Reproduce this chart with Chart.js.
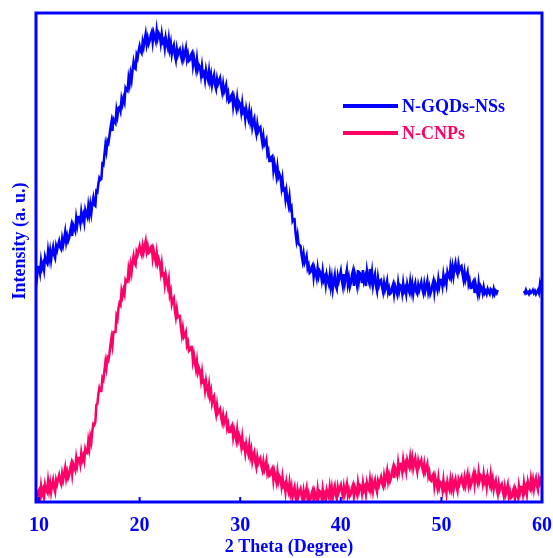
<!DOCTYPE html>
<html>
<head>
<meta charset="utf-8">
<script src="https://cdn.jsdelivr.net/npm/chart.js@4.4.1/dist/chart.umd.min.js"></script>
<style>
html,body{margin:0;padding:0;background:#fff;}
#wrap{width:553px;height:558px;position:relative;}
</style>
</head>
<body>
<div id="wrap"><canvas id="c" width="553" height="558"></canvas></div>
<script>
// 2θ sampling grid (degrees)
const twoTheta = [
 9.7,9.8,9.9,
 10,10.1,10.2,10.3,10.4,10.5,10.6,10.7,10.8,10.9,
 11,11.1,11.2,11.3,11.4,11.5,11.6,11.7,11.8,11.9,
 12,12.1,12.2,12.3,12.4,12.5,12.6,12.7,12.8,12.9,
 13,13.1,13.2,13.3,13.4,13.5,13.6,13.7,13.8,13.9,
 14,14.1,14.2,14.3,14.4,14.5,14.6,14.7,14.8,14.9,
 15,15.1,15.2,15.3,15.4,15.5,15.6,15.7,15.8,15.9,
 16,16.1,16.2,16.3,16.4,16.5,16.6,16.7,16.8,16.9,
 17,17.1,17.2,17.3,17.4,17.5,17.6,17.7,17.8,17.9,
 18,18.1,18.2,18.3,18.4,18.5,18.6,18.7,18.8,18.9,
 19,19.1,19.2,19.3,19.4,19.5,19.6,19.7,19.8,19.9,
 20,20.1,20.2,20.3,20.4,20.5,20.6,20.7,20.8,20.9,
 21,21.1,21.2,21.3,21.4,21.5,21.6,21.7,21.8,21.9,
 22,22.1,22.2,22.3,22.4,22.5,22.6,22.7,22.8,22.9,
 23,23.1,23.2,23.3,23.4,23.5,23.6,23.7,23.8,23.9,
 24,24.1,24.2,24.3,24.4,24.5,24.6,24.7,24.8,24.9,
 25,25.1,25.2,25.3,25.4,25.5,25.6,25.7,25.8,25.9,
 26,26.1,26.2,26.3,26.4,26.5,26.6,26.7,26.8,26.9,
 27,27.1,27.2,27.3,27.4,27.5,27.6,27.7,27.8,27.9,
 28,28.1,28.2,28.3,28.4,28.5,28.6,28.7,28.8,28.9,
 29,29.1,29.2,29.3,29.4,29.5,29.6,29.7,29.8,29.9,
 30,30.1,30.2,30.3,30.4,30.5,30.6,30.7,30.8,30.9,
 31,31.1,31.2,31.3,31.4,31.5,31.6,31.7,31.8,31.9,
 32,32.1,32.2,32.3,32.4,32.5,32.6,32.7,32.8,32.9,
 33,33.1,33.2,33.3,33.4,33.5,33.6,33.7,33.8,33.9,
 34,34.1,34.2,34.3,34.4,34.5,34.6,34.7,34.8,34.9,
 35,35.1,35.2,35.3,35.4,35.5,35.6,35.7,35.8,35.9,
 36,36.1,36.2,36.3,36.4,36.5,36.6,36.7,36.8,36.9,
 37,37.1,37.2,37.3,37.4,37.5,37.6,37.7,37.8,37.9,
 38,38.1,38.2,38.3,38.4,38.5,38.6,38.7,38.8,38.9,
 39,39.1,39.2,39.3,39.4,39.5,39.6,39.7,39.8,39.9,
 40,40.1,40.2,40.3,40.4,40.5,40.6,40.7,40.8,40.9,
 41,41.1,41.2,41.3,41.4,41.5,41.6,41.7,41.8,41.9,
 42,42.1,42.2,42.3,42.4,42.5,42.6,42.7,42.8,42.9,
 43,43.1,43.2,43.3,43.4,43.5,43.6,43.7,43.8,43.9,
 44,44.1,44.2,44.3,44.4,44.5,44.6,44.7,44.8,44.9,
 45,45.1,45.2,45.3,45.4,45.5,45.6,45.7,45.8,45.9,
 46,46.1,46.2,46.3,46.4,46.5,46.6,46.7,46.8,46.9,
 47,47.1,47.2,47.3,47.4,47.5,47.6,47.7,47.8,47.9,
 48,48.1,48.2,48.3,48.4,48.5,48.6,48.7,48.8,48.9,
 49,49.1,49.2,49.3,49.4,49.5,49.6,49.7,49.8,49.9,
 50,50.1,50.2,50.3,50.4,50.5,50.6,50.7,50.8,50.9,
 51,51.1,51.2,51.3,51.4,51.5,51.6,51.7,51.8,51.9,
 52,52.1,52.2,52.3,52.4,52.5,52.6,52.7,52.8,52.9,
 53,53.1,53.2,53.3,53.4,53.5,53.6,53.7,53.8,53.9,
 54,54.1,54.2,54.3,54.4,54.5,54.6,54.7,54.8,54.9,
 55,55.1,55.2,55.3,55.4,55.5,55.6,55.7,55.8,55.9,
 56,56.1,56.2,56.3,56.4,56.5,56.6,56.7,56.8,56.9,
 57,57.1,57.2,57.3,57.4,57.5,57.6,57.7,57.8,57.9,
 58,58.1,58.2,58.3,58.4,58.5,58.6,58.7,58.8,58.9,
 59,59.1,59.2,59.3,59.4,59.5,59.6,59.7,59.8,59.9,
 60
];

// N-GQDs-NSs intensity (a.u., offset trace)
const nGQDsNSs = [
 231,225,235,
 235,229,241,234,238,232,245,241,239,251,
 243,251,242,250,255,247,244,256,252,257,
 261,255,253,263,257,263,270,260,266,261,
 264,271,276,266,277,274,271,284,277,285,
 285,279,290,283,287,280,292,288,285,296,
 288,297,289,298,304,297,296,311,310,318,
 324,322,323,338,337,347,357,351,361,359,
 366,374,380,371,383,381,379,392,386,394,
 395,391,403,398,404,400,414,412,411,424,
 418,428,422,432,440,434,433,447,444,451,
 456,451,449,460,455,462,468,458,464,458,
 461,467,470,460,469,465,461,472,464,469,
 467,459,468,460,462,454,464,458,454,463,
 453,459,448,454,457,447,442,453,447,451,
 453,446,442,451,444,449,454,443,448,441,
 442,447,449,437,445,439,433,443,433,437,
 435,427,436,427,429,422,432,426,422,431,
 421,427,417,423,427,417,413,423,418,421,
 424,416,410,418,410,413,417,405,409,400,
 401,406,408,396,404,399,394,404,395,400,
 398,390,399,390,392,383,393,387,383,391,
 381,387,375,381,384,373,368,378,371,374,
 375,366,359,366,357,359,362,348,351,341,
 341,345,346,332,339,333,326,335,325,328,
 325,315,323,312,313,303,311,303,297,305,
 293,295,281,283,283,269,261,267,258,257,
 256,247,241,248,239,242,246,234,237,229,
 230,235,237,225,233,229,224,234,226,231,
 229,222,231,222,225,217,227,222,218,227,
 216,224,213,221,227,216,213,226,221,226,
 231,222,216,228,219,226,232,218,224,215,
 219,227,231,216,228,223,217,232,221,229,
 228,219,232,221,225,216,231,224,220,233,
 222,230,217,224,228,216,211,224,217,221,
 222,215,210,219,212,216,221,210,214,208,
 209,215,218,208,216,212,208,219,211,217,
 216,209,219,211,214,208,218,213,210,220,
 211,218,208,215,219,210,208,217,212,216,
 220,213,209,218,211,216,221,210,215,208,
 211,217,221,210,219,216,212,223,216,222,
 222,216,227,220,224,218,230,226,224,235,
 227,235,226,234,239,231,228,238,232,235,
 236,228,222,230,222,226,230,218,222,214,
 214,219,221,209,218,213,208,219,210,216,
 214,209,215,209,211,208,213,210,208,213,
 212,208,213,208,211,209,212,null,null,null,
 null,null,null,null,null,null,null,null,null,null,
 null,null,null,null,null,null,null,null,null,null,
 null,null,211,209,212,209,210,208,211,209,
 210,212,209,211,208,210,212,209,218,213,
 222
];

// N-CNPs intensity (a.u.)
const nCNPs = [
 8,3,10,
 12,5,16,8,12,5,17,12,10,21,
 12,19,10,17,22,14,10,22,18,23,
 27,21,18,28,22,28,34,24,30,24,
 27,34,38,28,38,35,32,44,37,44,
 44,38,49,42,46,41,53,50,49,61,
 54,65,60,71,78,77,80,97,98,108,
 114,111,111,124,122,131,140,134,144,142,
 148,157,164,157,170,170,170,186,183,194,
 199,197,211,206,212,208,222,220,220,233,
 227,237,230,240,246,239,237,250,247,252,
 256,250,247,256,250,256,261,251,256,249,
 250,255,256,244,251,245,240,249,239,243,
 239,230,238,227,228,218,227,220,215,222,
 207,211,198,202,204,192,185,193,185,186,
 186,175,167,174,165,167,170,157,160,151,
 152,155,155,141,147,140,133,141,130,134,
 131,122,130,120,121,112,121,114,109,117,
 106,111,99,104,106,94,88,97,89,91,
 93,85,80,87,79,83,86,74,78,70,
 70,75,77,65,72,67,62,72,62,67,
 64,56,65,55,57,49,58,52,48,57,
 46,52,41,47,50,40,35,45,39,42,
 44,36,32,40,32,36,41,29,33,26,
 27,32,34,22,30,25,20,30,21,26,
 24,16,25,16,18,10,20,14,10,19,
 9,15,5,11,15,5,1,12,6,10,
 13,6,2,11,4,9,14,3,8,1,
 3,9,12,1,10,6,2,13,5,11,
 10,3,13,5,8,2,12,8,5,15,
 7,14,4,12,16,7,3,15,10,14,
 17,10,6,15,8,13,18,7,12,6,
 8,14,17,6,15,12,8,19,11,17,
 16,9,19,12,15,8,19,14,12,22,
 13,20,11,18,22,14,10,21,17,21,
 25,19,16,26,19,25,31,21,27,21,
 24,31,35,24,34,31,27,39,31,38,
 38,31,42,34,38,31,42,38,35,45,
 37,44,34,40,44,35,30,41,36,39,
 42,34,30,38,30,34,38,26,30,22,
 21,26,28,16,24,19,14,24,15,20,
 19,12,22,13,16,9,20,15,12,22,
 14,21,12,19,23,15,11,22,18,22,
 25,18,15,24,17,23,28,17,23,16,
 19,25,29,18,27,23,19,30,22,27,
 26,19,28,20,23,15,26,21,17,27,
 17,23,13,19,22,13,8,18,12,16,
 18,11,6,15,8,12,17,6,11,4,
 5,11,14,3,12,9,5,16,9,15,
 15,8,19,11,15,8,20,15,13,23,
 15,22,13,20,24,16,12,23,19,23,
 21
];

const xTickLabels = [10, 20, 30, 40, 50, 60];
const seriesNames = ["N-GQDs-NSs", "N-CNPs"];
const seriesColors = ["#0000FF", "#FF0066"];
const xTitle = "2 Theta (Degree)";
const yTitle = "Intensity (a. u.)";

const AXIS_BLUE = "#0000FF";
const SERIF = "'Liberation Serif', 'Times New Roman', serif";

const framePlugin = {
  id: 'frame',
  afterDraw(chart) {
    const {ctx, chartArea: a, scales} = chart;
    ctx.save();
    ctx.strokeStyle = AXIS_BLUE;
    ctx.lineWidth = 2;
    xTickLabels.forEach(v => {
      const x = scales.x.getPixelForValue(v);
      ctx.beginPath();
      ctx.moveTo(x, a.bottom);
      ctx.lineTo(x, a.bottom - 5);
      ctx.stroke();
    });
    ctx.lineWidth = 3;
    ctx.strokeRect(a.left, a.top, a.right - a.left, a.bottom - a.top);
    ctx.fillStyle = AXIS_BLUE;
    ctx.font = "bold 18px " + SERIF;
    ctx.textAlign = 'center';
    ctx.textBaseline = 'middle';
    ctx.translate(20, 241);
    ctx.rotate(-Math.PI / 2);
    ctx.fillText(yTitle, 0, 0);
    ctx.restore();

    ctx.save();
    ctx.font = "bold 18px " + SERIF;
    ctx.textAlign = 'left';
    ctx.textBaseline = 'middle';
    const lx0 = 343, lx1 = 398, tx = 402;
    const ys = [106, 133];
    seriesNames.forEach((name, i) => {
      ctx.strokeStyle = seriesColors[i];
      ctx.lineWidth = 4;
      ctx.beginPath();
      ctx.moveTo(lx0, ys[i]);
      ctx.lineTo(lx1, ys[i]);
      ctx.stroke();
      ctx.fillStyle = seriesColors[i];
      ctx.fillText(name, tx, ys[i] + 1);
    });
    ctx.restore();
  }
};

const toPts = arr => twoTheta.map((x, i) => ({x: x, y: arr[i]}));

new Chart(document.getElementById('c'), {
  type: 'line',
  data: {
    datasets: [
      {label: seriesNames[0], data: toPts(nGQDsNSs), borderColor: seriesColors[0], borderWidth: 2.5,
       pointRadius: 0, tension: 0, spanGaps: false, fill: false},
      {label: seriesNames[1], data: toPts(nCNPs), borderColor: seriesColors[1], borderWidth: 2.5,
       pointRadius: 0, tension: 0, spanGaps: false, fill: false}
    ]
  },
  options: {
    responsive: false,
    animation: false,
    layout: {padding: {top: 13, right: 11, left: 0, bottom: 0}},
    plugins: {legend: {display: false}, tooltip: {enabled: false}},
    scales: {
      x: {
        type: 'linear', min: 9.7, max: 60,
        afterBuildTicks: s => { s.ticks = xTickLabels.map(v => ({value: v})); },
        afterFit: s => { s.height = 56; s.paddingLeft = 0; s.paddingRight = 0; },
        grid: {display: false, drawTicks: false},
        border: {display: false},
        ticks: {color: AXIS_BLUE, padding: 12, font: {family: SERIF, size: 20, weight: 'bold'}, maxRotation: 0},
        title: {display: true, text: xTitle, color: AXIS_BLUE, padding: {top: 0, bottom: 0},
                font: {family: SERIF, size: 18, weight: 'bold'}}
      },
      y: {
        min: 0, max: 489,
        afterFit: s => { s.width = 36; },
        grid: {display: false, drawTicks: false},
        border: {display: false},
        ticks: {display: false}
      }
    }
  },
  plugins: [framePlugin]
});
</script>
</body>
</html>
